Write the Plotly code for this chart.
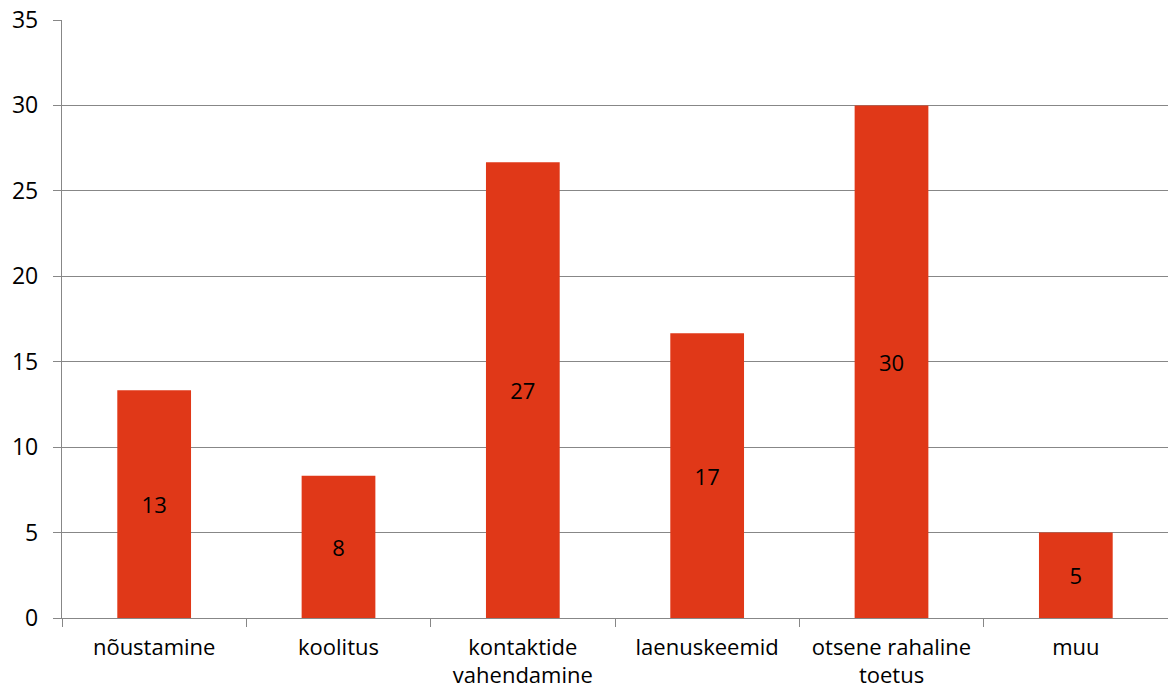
import plotly.graph_objects as go

categories = ["nõustamine", "koolitus", "kontaktide<br>vahendamine", "laenuskeemid",
              "otsene rahaline<br>toetus", "muu"]
values = [13.33, 8.33, 26.67, 16.67, 30.0, 5.0]
labels = ["13", "8", "27", "17", "30", "5"]
y_ticks = [0, 5, 10, 15, 20, 25, 30, 35]

FONT = "Open Sans, Liberation Sans, sans-serif"
GRID = "#878787"

fig = go.Figure(go.Bar(
    x=categories, y=values, text=labels,
    textposition="inside", insidetextanchor="middle",
    textfont=dict(color="black", size=22, family=FONT),
    marker=dict(color="#E03818", line=dict(width=0)),
    width=0.4, textangle=0,
))

fig.update_layout(
    width=1168, height=695,
    margin=dict(l=62, r=0, t=20, b=77),
    plot_bgcolor="white", paper_bgcolor="white",
    font=dict(family=FONT, size=22, color="black"),
    showlegend=False,
    uniformtext=dict(mode=False),
)
fig.update_yaxes(
    range=[0, 35], tickvals=y_ticks, showgrid=True, gridcolor=GRID, gridwidth=1.3,
    showline=True, linecolor=GRID, linewidth=1.3,
    ticks="outside", ticklen=8, tickcolor=GRID, tickwidth=1.3, zeroline=False,
    ticklabelstandoff=10, tickfont=dict(size=23), automargin=False,
)
fig.update_xaxes(
    showline=True, linecolor=GRID, linewidth=1.3,
    ticks="outside", ticklen=8, tickcolor=GRID, tickwidth=1.3, tickson="boundaries",
    showgrid=False, range=[-0.5, 5.5], ticklabelstandoff=9, tickfont=dict(size=22),
    automargin=False,
)

fig.write_html("out.html")
